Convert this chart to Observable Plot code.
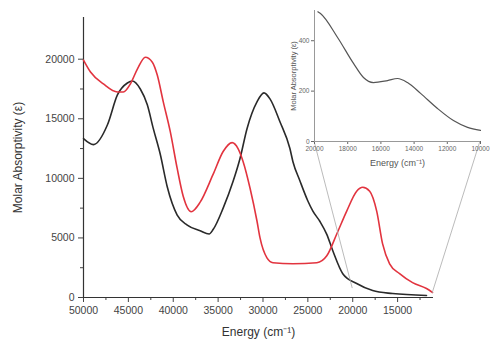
<!DOCTYPE html>
<html>
<head>
<meta charset="utf-8">
<script src="https://cdn.jsdelivr.net/npm/d3@7"></script>
<script src="https://cdn.jsdelivr.net/npm/@observablehq/plot@0.6"></script>
<style>
  html, body { margin: 0; padding: 0; background: #fff; }
  #wrap { position: relative; width: 490px; height: 342px; font-family: "Liberation Sans", Arial, sans-serif; }
  #inset { position: absolute; left: 280px; top: 0px; }
</style>
</head>
<body>
<div id="wrap"><div id="main"></div><div id="inset"></div></div>
<script>
// Black spectrum (energy cm^-1, molar absorptivity)
const blackEnergy = [50000, 48890, 47330, 46220, 45110, 44560, 43670, 42890, 42220, 41440, 40670, 39560, 38440, 37000, 36000, 35560, 34440, 33330, 32560, 31780, 30670, 29890, 29220, 28110, 27000, 26670, 25890, 25000, 24440, 23670, 22890, 22220, 21110, 19560, 17780, 15560, 11780];
const blackAbs    = [13330, 12830, 14500, 17000, 18000, 18170, 17500, 16170, 14170, 12000, 9300, 6920, 6080, 5600, 5330, 5700, 7500, 9750, 11670, 14170, 16420, 17170, 16670, 14750, 12500, 11420, 9800, 8100, 7250, 6400, 5300, 3920, 2000, 1170, 580, 330, 170];
// Red spectrum
const redEnergy = [50000, 49220, 47780, 46220, 45560, 44780, 44000, 43110, 42330, 41780, 41110, 40330, 39560, 38890, 38000, 37000, 35560, 34440, 33440, 32780, 32220, 31440, 30670, 30330, 29560, 28890, 26670, 24000, 22890, 21780, 20670, 19560, 18890, 18110, 17330, 16670, 15890, 14780, 13330, 11780, 11110];
const redAbs    = [19920, 18920, 17920, 17250, 17250, 17920, 19170, 20170, 19750, 18670, 16420, 13920, 10830, 8500, 7200, 8000, 10330, 12250, 13000, 12500, 11420, 9170, 6420, 5000, 3330, 2920, 2830, 2920, 3500, 5330, 7250, 8920, 9250, 8920, 7250, 4500, 2830, 2000, 1250, 750, 420];
// Inset (zoom of black spectrum, low energy)
const insetEnergy = [19800, 19640, 18610, 17650, 17050, 16450, 15600, 15000, 14400, 13610, 12590, 11630, 10780, 10000];
const insetAbs    = [515, 508, 413, 310, 254, 234, 242, 250, 234, 191, 131, 83, 56, 44];

const xTicks = [50000, 45000, 40000, 35000, 30000, 25000, 20000, 15000];
const xMinor = [47500, 42500, 37500, 32500, 27500, 22500, 17500, 12500];
const yTicks = [0, 5000, 10000, 15000, 20000];
const yMinor = [2500, 7500, 12500, 17500];
const insetXTicks = [20000, 18000, 16000, 14000, 12000, 10000];
const insetYTicks = [0, 200, 400];
// zoomed region on the main axes (energy range, level)
const zoomEnergy = [20000, 11100];
const zoomLevel = [750, 330];

const toRows = (xs, ys) => xs.map((x, i) => ({x, y: ys[i]})).sort((a, b) => a.x - b.x);
const black = toRows(blackEnergy, blackAbs);
const red = toRows(redEnergy, redAbs);
const ins = toRows(insetEnergy, insetAbs);

const fmt = d => String(d);
const font = "Liberation Sans, Arial, sans-serif";

const main = Plot.plot({
  width: 490, height: 342,
  marginLeft: 83, marginRight: 57, marginTop: 17, marginBottom: 45,
  style: {fontFamily: font, fontSize: "10.5px", color: "#444", background: "transparent"},
  x: {domain: [50000, 11000]},
  y: {domain: [0, 23500]},
  marks: [
    Plot.axisX({ticks: xTicks, tickFormat: fmt, tickSize: 5, tickPadding: 4, label: "Energy (cm⁻¹)", labelAnchor: "center", labelOffset: 38, labelArrow: "none"}),
    Plot.axisX({ticks: xMinor, tickFormat: () => "", tickSize: 3, label: null}),
    Plot.axisY({ticks: yTicks, tickFormat: fmt, tickSize: 5, tickPadding: 4, label: "Molar Absorptivity (ε)", labelAnchor: "center", labelOffset: 70, labelArrow: "none"}),
    Plot.axisY({ticks: yMinor, tickFormat: () => "", tickSize: 3, label: null}),
    Plot.ruleY([0], {stroke: "#333", strokeWidth: 1.2}),
    Plot.ruleX([50000], {y1: 0, y2: 23500, stroke: "#333", strokeWidth: 1.2}),
    Plot.line(black, {x: "x", y: "y", stroke: "#2a2a2a", strokeWidth: 1.6, curve: "monotone-x"}),
    Plot.line(red, {x: "x", y: "y", stroke: "#e2343f", strokeWidth: 1.6, curve: "monotone-x"})
  ]
});
d3.select(main).selectAll("g[aria-label='x-axis label'] text, g[aria-label='y-axis label'] text").style("font-size", "12px").style("fill", "#333");
document.getElementById("main").appendChild(main);

const insetW = 210, insetH = 175;
const inset = Plot.plot({
  width: insetW, height: insetH,
  marginLeft: 34, marginRight: 10, marginTop: 10, marginBottom: 34,
  style: {fontFamily: font, fontSize: "6.5px", color: "#666", background: "transparent", overflow: "visible"},
  x: {domain: [20000, 10000]},
  y: {domain: [0, 520]},
  marks: [
    Plot.axisX({ticks: insetXTicks, tickFormat: fmt, tickSize: 3, tickPadding: 2, label: "Energy (cm⁻¹)", labelAnchor: "center", labelOffset: 24, labelArrow: "none"}),
    Plot.axisY({ticks: insetYTicks, tickFormat: fmt, tickSize: 3, tickPadding: 2, label: "Molar Absorptivity (ε)", labelAnchor: "center", labelOffset: 24, labelArrow: "none"}),
    Plot.ruleY([0], {stroke: "#999", strokeWidth: 1}),
    Plot.ruleX([20000], {y1: 0, y2: 520, stroke: "#999", strokeWidth: 1}),
    Plot.line(ins, {x: "x", y: "y", stroke: "#555", strokeWidth: 1.2, curve: "monotone-x"})
  ]
});
d3.select(inset).selectAll("g[aria-label='x-axis label'] text").style("font-size", "9px").style("fill", "#555");
d3.select(inset).selectAll("g[aria-label='y-axis label'] text").style("font-size", "7.5px").style("fill", "#555");
document.getElementById("inset").appendChild(inset);

// connector lines from inset corners to the zoomed region on the main axes
const mx = main.scale("x"), my = main.scale("y");
const ix = inset.scale("x"), iy = inset.scale("y");
const insetLeft = 280, insetTop = 0;
const svg = d3.select(main);
zoomEnergy.forEach((e, i) => {
  const ie = ix.domain[i];
  svg.append("line")
    .attr("x1", insetLeft + ix.apply(ie)).attr("y1", insetTop + iy.apply(0))
    .attr("x2", mx.apply(e)).attr("y2", my.apply(zoomLevel[i]))
    .attr("stroke", "#aaa").attr("stroke-width", 0.8);
});
</script>
</body>
</html>
